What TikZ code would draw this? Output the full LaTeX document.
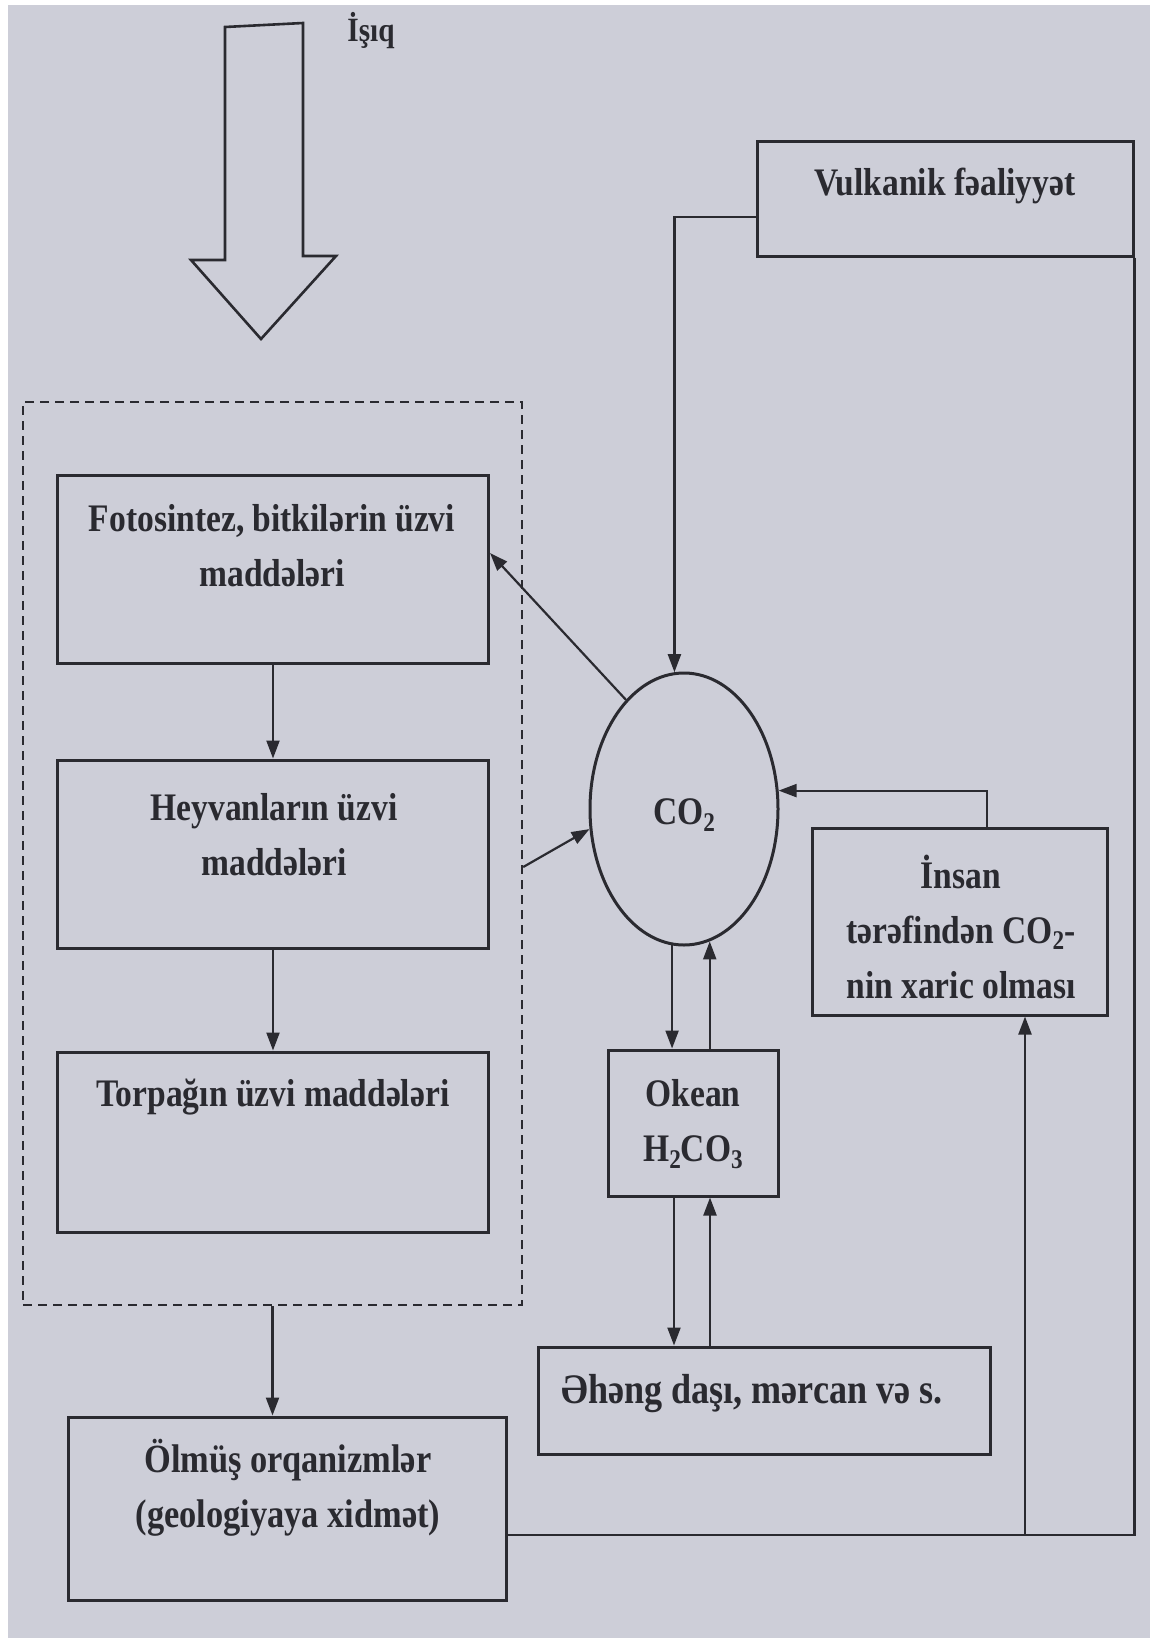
\documentclass[tikz,border=0pt]{standalone}
\usepackage{fontspec}
\setmainfont{Liberation Serif}[FakeStretch=0.86]
\usetikzlibrary{arrows.meta,shapes.geometric,calc}
\definecolor{paper}{HTML}{CDCED8}
\definecolor{ink}{HTML}{2A2A30}
\newcommand\subs[1]{\raisebox{-0.35ex}{\fontsize{27}{27}\selectfont #1}}
\begin{document}
\begin{tikzpicture}[x=1pt,y=-1pt,
  box/.style={draw=ink, line width=3pt, inner sep=0pt},
  txt/.style={text=ink, align=center, inner sep=0pt,
    font=\bfseries\fontsize{39}{55}\selectfont},
  flow/.style={draw=ink, line width=2.2pt, -{Triangle[length=18pt,width=13pt]}},
  link/.style={draw=ink, line width=2.4pt},
  group/.style={draw=ink, line width=2.4pt, dash pattern=on 9pt off 6pt, inner sep=0pt}
]
% page
\fill[white] (0,0) rectangle (1154,1638);
\fill[paper] (8,5) rectangle (1150,1638);
\useasboundingbox (0,0) rectangle (1154,1638);

% light arrow
\draw[ink, line width=2.6pt, line join=miter]
  (225,27) -- (303,23) -- (303,256) -- (336,256) -- (261,339)
  -- (191,260) -- (225,260) -- cycle;
\node[txt, font=\bfseries\fontsize{34}{40}\selectfont] (isiq) at (371,31) {İşıq};

% living matter group
\node[group, minimum width=499pt, minimum height=903pt] (bio) at (272.5,853.5) {};
\node[box, minimum width=431pt, minimum height=188pt] (foto) at (273,569) {};
\node[box, minimum width=431pt, minimum height=188pt] (heyvan) at (273,854) {};
\node[box, minimum width=431pt, minimum height=180pt] (torpaq) at (273,1142) {};
\node[txt] (fototext) at (272,546) {Fotosintez, bitkilərin üzvi\\maddələri};
\node[txt] (heyvtext) at (274,835) {Heyvanların üzvi\\maddələri};
\node[txt] (torptext) at (273,1097) {Torpağın üzvi maddələri};

% dead organisms
\node[box, minimum width=438pt, minimum height=183pt] (olmus) at (287,1508.5) {};
\node[txt, font=\bfseries\fontsize{40}{55}\selectfont] (olmtext) at (288,1488) {Ölmüş orqanizmlər\\(geologiyaya xidmət)};

% carbon dioxide
\node[ellipse, box, minimum width=188pt, minimum height=272pt] (co2) at (684,809) {};
\node[txt] (co2text) at (684,815) {CO\subs{2}};

% volcanic activity
\node[box, minimum width=376pt, minimum height=115pt] (vulk) at (945,198.5) {};
\node[txt] (vulktext) at (945,186) {Vulkanik fəaliyyət};

% human emission
\node[box, minimum width=295pt, minimum height=187pt] (insan) at (959.5,921.5) {};
\node[txt] (instext) at (961,927) {İnsan\\tərəfindən CO\subs{2}-\\nin xaric olması};

% ocean
\node[box, minimum width=170pt, minimum height=146pt] (okean) at (693,1123) {};
\node[txt] (oketext) at (693,1124) {Okean\\H\subs{2}CO\subs{3}};

% limestone
\node[box, minimum width=452pt, minimum height=107pt] (aheng) at (764,1400.5) {};
\node[txt, font=\bfseries\fontsize{42}{55}\selectfont] (ahtext) at (752,1394) {Əhəng daşı, mərcan və s.};

% connectors inside the group
\draw[flow] (foto.south) -- (heyvan.north);
\draw[flow] (heyvan.south) -- (torpaq.north);
\draw[flow] (bio.south) -- (bio.south |- olmus.north);

% exchange with CO2
\draw[flow] (co2.118) -- ([yshift=16pt]foto.east);
\coordinate (hv) at ($(bio.east)+(0,13.5)$);
\draw[flow] (hv) -- (co2.192.8);
\draw[flow] ([yshift=-18.5pt]vulk.west) -| (co2.94.2);

% outer loop
\coordinate (corner) at (vulk.south east |- 0,1535);
\coordinate (inbot) at (1025,1535);
\draw[link] (vulk.south east) -- (corner) -- (olmus.east |- corner);
\draw[flow] (inbot) -- (inbot |- insan.south);
\draw[flow] ([xshift=27.5pt]insan.north) |- (co2.11.5);

% ocean exchange
\draw[flow] (co2.265.8) -- (co2.265.8 |- okean.north);
\draw[flow] (co2.281.25 |- okean.north) -- (co2.281.25);
\draw[flow] ([xshift=-19pt]okean.south) -- ([xshift=-19pt]okean.south |- aheng.north);
\draw[flow] ([xshift=17pt]okean.south |- aheng.north) -- ([xshift=17pt]okean.south);
\end{tikzpicture}
\end{document}
